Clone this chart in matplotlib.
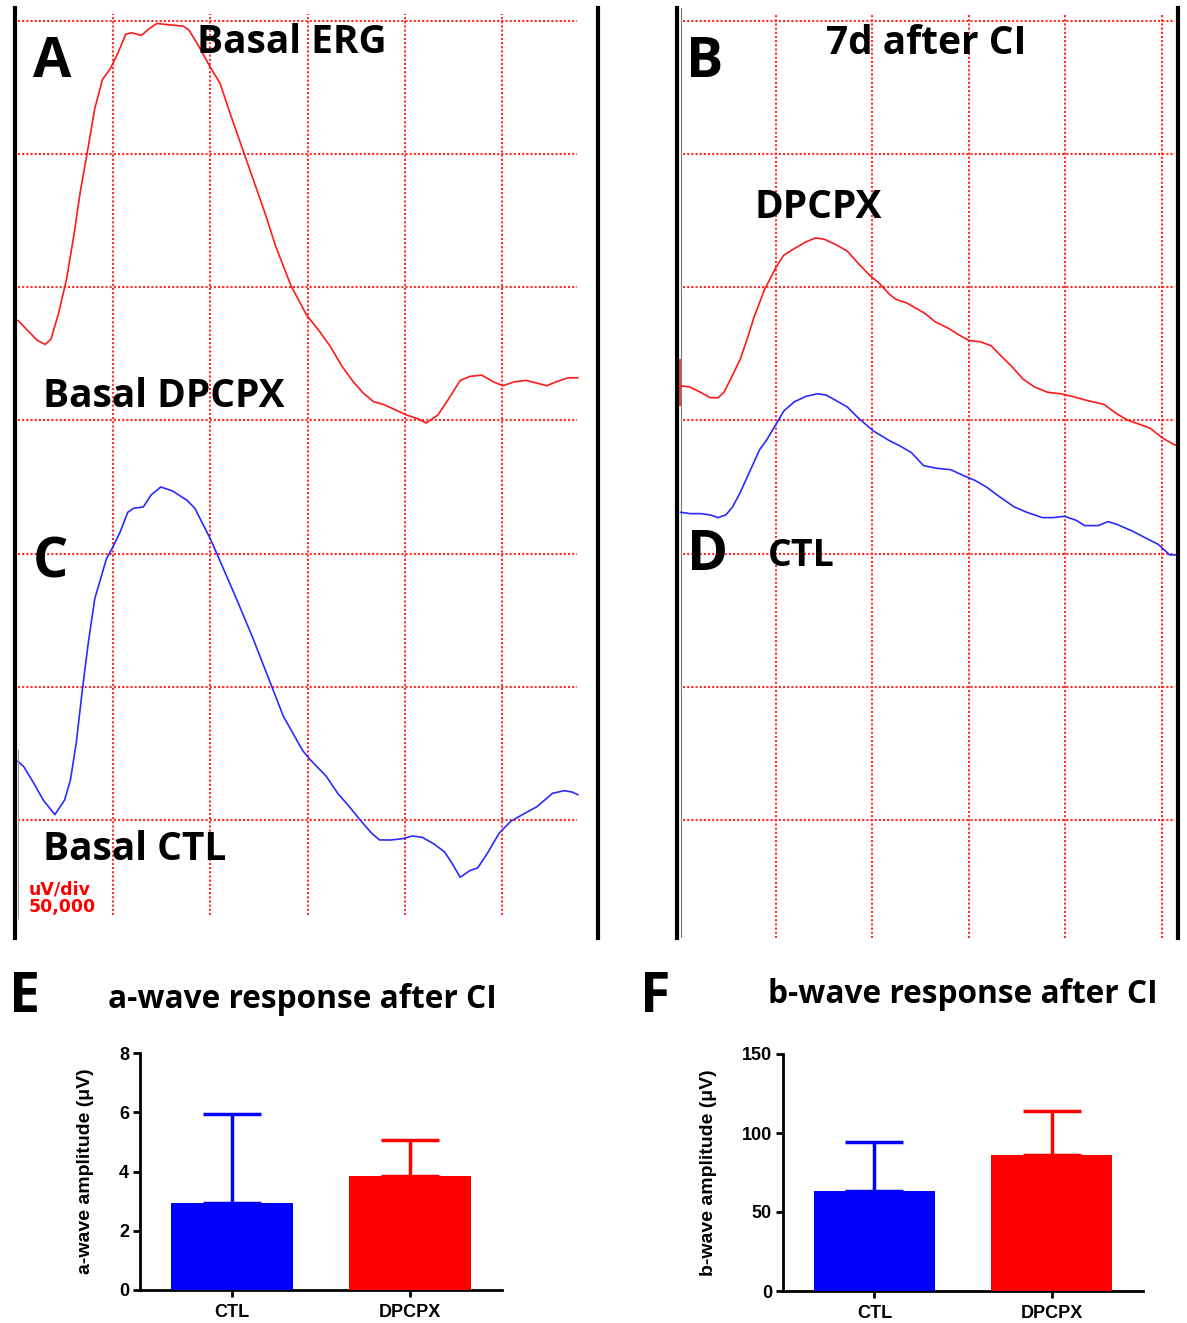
import matplotlib.pyplot as plt

# figure size in pixels, we draw at 100 dpi
W, H = 1187, 1323

# ERG traces in grid divisions: t = time divisions from the left edge,
# v = amplitude divisions above the lowest grid line (50,000 uV/div)
basal_dpcpx_t = [0.02, 0.14, 0.22, 0.30, 0.36, 0.44, 0.52, 0.60, 0.66, 0.74, 0.81, 0.89,
                 0.97, 1.05, 1.13, 1.19, 1.29, 1.37, 1.45, 1.57, 1.72, 1.78, 1.88, 2.00,
                 2.10, 2.20, 2.32, 2.44, 2.56, 2.67, 2.83, 2.99, 3.11, 3.23, 3.35, 3.47,
                 3.58, 3.68, 3.78, 3.90, 4.02, 4.14, 4.22, 4.34, 4.45, 4.57, 4.67, 4.79,
                 4.91, 5.01, 5.13, 5.25, 5.36, 5.46, 5.56, 5.68, 5.78]
basal_dpcpx_v = [3.75, 3.66, 3.60, 3.57, 3.61, 3.81, 4.06, 4.41, 4.71, 5.04, 5.34, 5.56,
                 5.64, 5.76, 5.90, 5.91, 5.89, 5.94, 5.98, 5.97, 5.96, 5.93, 5.81, 5.65,
                 5.53, 5.31, 5.06, 4.81, 4.56, 4.31, 4.01, 3.79, 3.68, 3.56, 3.41, 3.29,
                 3.20, 3.14, 3.12, 3.08, 3.04, 3.01, 2.98, 3.04, 3.16, 3.30, 3.33, 3.34,
                 3.29, 3.26, 3.29, 3.30, 3.28, 3.26, 3.29, 3.32, 3.32]

basal_ctl_t = [0.02, 0.08, 0.18, 0.28, 0.40, 0.50, 0.56, 0.62, 0.68, 0.74, 0.81, 0.87,
               0.93, 0.99, 1.07, 1.15, 1.21, 1.31, 1.39, 1.49, 1.61, 1.76, 1.84, 2.00,
               2.12, 2.28, 2.44, 2.59, 2.75, 2.95, 3.03, 3.19, 3.31, 3.43, 3.54, 3.66,
               3.74, 3.86, 3.98, 4.08, 4.18, 4.30, 4.41, 4.49, 4.57, 4.67, 4.75, 4.85,
               4.97, 5.09, 5.21, 5.36, 5.52, 5.64, 5.72, 5.78]
basal_ctl_v = [0.44, 0.40, 0.28, 0.15, 0.04, 0.15, 0.30, 0.58, 0.96, 1.31, 1.66, 1.81,
               1.96, 2.04, 2.16, 2.31, 2.34, 2.35, 2.44, 2.50, 2.47, 2.40, 2.34, 2.11,
               1.91, 1.64, 1.36, 1.08, 0.78, 0.52, 0.45, 0.33, 0.20, 0.10, 0.00, -0.10,
               -0.15, -0.15, -0.14, -0.12, -0.13, -0.18, -0.24, -0.33, -0.43, -0.38, -0.36, -0.25,
               -0.10, -0.01, 0.04, 0.10, 0.20, 0.22, 0.21, 0.19]

ci_dpcpx_t = [0.01, 0.11, 0.22, 0.32, 0.40, 0.46, 0.53, 0.63, 0.71, 0.77, 0.88, 1.00,
              1.08, 1.19, 1.31, 1.41, 1.50, 1.62, 1.74, 1.85, 1.97, 2.07, 2.17, 2.24,
              2.36, 2.48, 2.55, 2.65, 2.79, 2.90, 3.00, 3.12, 3.23, 3.31, 3.45, 3.56,
              3.68, 3.82, 3.95, 4.07, 4.22, 4.40, 4.53, 4.65, 4.77, 4.88, 5.00, 5.12, 5.16]
ci_dpcpx_v = [3.26, 3.25, 3.21, 3.17, 3.17, 3.21, 3.31, 3.46, 3.63, 3.77, 3.98, 4.15,
              4.24, 4.29, 4.34, 4.37, 4.36, 4.32, 4.27, 4.18, 4.09, 4.03, 3.95, 3.91,
              3.88, 3.83, 3.80, 3.74, 3.69, 3.64, 3.60, 3.59, 3.56, 3.50, 3.40, 3.31,
              3.25, 3.21, 3.20, 3.18, 3.15, 3.12, 3.05, 3.00, 2.97, 2.94, 2.87, 2.82, 2.81]

ci_ctl_t = [0.01, 0.11, 0.22, 0.32, 0.40, 0.48, 0.55, 0.63, 0.73, 0.83, 0.90, 1.00,
            1.08, 1.19, 1.31, 1.43, 1.52, 1.62, 1.74, 1.85, 2.01, 2.17, 2.28, 2.40,
            2.53, 2.67, 2.81, 2.96, 3.06, 3.18, 3.31, 3.47, 3.60, 3.76, 3.87, 3.99,
            4.11, 4.20, 4.34, 4.44, 4.53, 4.69, 4.85, 4.96, 5.08, 5.16]
ci_ctl_v = [2.31, 2.30, 2.30, 2.29, 2.27, 2.29, 2.35, 2.46, 2.62, 2.78, 2.85, 2.97,
            3.07, 3.14, 3.18, 3.20, 3.19, 3.15, 3.10, 3.02, 2.92, 2.85, 2.81, 2.76,
            2.66, 2.64, 2.63, 2.58, 2.55, 2.50, 2.43, 2.35, 2.31, 2.27, 2.27, 2.28,
            2.25, 2.21, 2.21, 2.24, 2.22, 2.17, 2.11, 2.07, 1.99, 1.99]

# bar charts (mean and SEM)
groups = ['CTL', 'DPCPX']
a_wave_mean = [2.95, 3.85]
a_wave_sem = [3.0, 1.2]
b_wave_mean = [63, 86]
b_wave_sem = [31, 28]
bar_colors = ['#0000ff', '#ff0000']

GRID_RED = '#ff2a2a'
TXT = 'Open Sans'


def box(l, t, r, b):
    # pixel box -> figure fraction rect
    return [l / W, 1 - b / H, (r - l) / W, (b - t) / H]


def label(x, y, s, size, **kw):
    # x, y = left / baseline in pixels
    fig.text(x / W, 1 - y / H, s, fontsize=size, ha='left', va='baseline',
             family=kw.pop('family', TXT), fontweight=kw.pop('weight', 'bold'), **kw)


def erg_axes(rect, xlim, ylim, hspan, vspan):
    ax = fig.add_axes(rect)
    ax.set_xlim(xlim)
    ax.set_ylim(ylim)
    ax.set_xticks([])
    ax.set_yticks([])
    ax.spines['top'].set_visible(False)
    ax.spines['bottom'].set_visible(False)
    for s in ['left', 'right']:
        ax.spines[s].set_linewidth(3)
        ax.spines[s].set_color('black')
    ax.hlines(range(7), hspan[0], hspan[1], colors=GRID_RED, lw=1.5, linestyles=(0, (1, 1)))
    ax.vlines(range(1, 6), vspan[0], vspan[1], colors=GRID_RED, lw=1.5, linestyles=(0, (1, 1)))
    return ax


def bar_axes(rect, mean, sem, ymax, yticks, ylabel):
    ax = fig.add_axes(rect)
    x = range(len(groups))
    ax.bar(x, mean, width=0.685, color=bar_colors, zorder=3)
    for i in x:
        ax.errorbar(i, mean[i], yerr=[[0], [sem[i]]], color=bar_colors[i],
                    capsize=21, elinewidth=2.5, capthick=2.5, zorder=2)
    ax.set_xlim(-0.515, 1.515)
    ax.set_ylim(0, ymax)
    ax.set_yticks(yticks)
    ax.set_xticks(list(x))
    ax.set_xticklabels(groups)
    ax.spines['top'].set_visible(False)
    ax.spines['right'].set_visible(False)
    for s in ['left', 'bottom']:
        ax.spines[s].set_linewidth(2)
    ax.tick_params(width=2, length=5, labelsize=13)
    ax.tick_params(axis='y', pad=3)
    ax.tick_params(axis='x', pad=5)
    for t in ax.get_xticklabels() + ax.get_yticklabels():
        t.set_family('Liberation Sans')
        t.set_fontweight('bold')
    ax.set_ylabel(ylabel, fontsize=14, family='Liberation Sans', fontweight='bold', labelpad=18)
    return ax


fig = plt.figure(figsize=(W / 100, H / 100), dpi=100)

# ---- panels A / C (basal) ----
axl = erg_axes(box(15, 8, 598, 938), (-0.0103, 5.988), (-0.886, 6.096),
               (0.02, 5.77), (-0.713, 6.05))
axl.plot(basal_dpcpx_t, basal_dpcpx_v, color='#ff1a1a', lw=1.2, solid_joinstyle='round')
axl.plot(basal_ctl_t, basal_ctl_v, color='#2a2aff', lw=1.2, solid_joinstyle='round')
axl.vlines(0.025, -0.74, 0.53, colors='#999999', lw=0.8)

# ---- panels B / D (7 days after CI) ----
axr = erg_axes(box(677, 8, 1178, 938), (-0.026, 5.166), (-0.886, 6.096),
               (0.036, 5.135), (-0.886, 6.05))
axr.axvline(0.016, color='#777777', lw=0.8)
axr.plot(ci_dpcpx_t, ci_dpcpx_v, color='#ff1a1a', lw=1.2, solid_joinstyle='round')
axr.vlines(0.01, 3.11, 3.46, colors='#ff1a1a', lw=1.2)
axr.plot(ci_ctl_t, ci_ctl_v, color='#2a2aff', lw=1.2, solid_joinstyle='round')

label(33, 77, 'A', 40)
label(197, 53, 'Basal ERG', 28)
label(43, 407, 'Basal DPCPX', 28)
label(33, 577, 'C', 40)
label(43, 860, 'Basal CTL', 28)
label(29, 895, 'uV/div', 12.5, family='DejaVu Sans', color='#ff0000')
label(29, 912, '50,000', 12.5, family='DejaVu Sans', color='#ff0000')

label(686, 77, 'B', 40)
label(826, 54, '7d after CI', 28)
label(754, 218, 'DPCPX', 28)
label(687, 570, 'D', 40)
label(768, 566, 'CTL', 27)

# ---- bar charts E / F ----
bar_axes(box(140, 1053, 502, 1290), a_wave_mean, a_wave_sem, 8, [0, 2, 4, 6, 8],
         'a-wave amplitude (\u03bcV)')
bar_axes(box(783, 1054, 1143, 1291), b_wave_mean, b_wave_sem, 150, [0, 50, 100, 150],
         'b-wave amplitude (\u03bcV)')

label(9, 1012, 'E', 40)
label(108, 1008, 'a-wave response after CI', 22.8)
label(640, 1012, 'F', 40)
label(768, 1003, 'b-wave response after CI', 22.8)

fig.savefig('out.png', dpi=100)
